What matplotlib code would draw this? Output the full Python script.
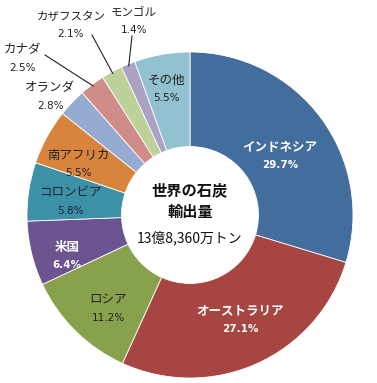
import matplotlib
matplotlib.use("Agg")
import matplotlib.pyplot as plt
import numpy as np

plt.rcParams['font.family'] = ['Noto Sans CJK JP', 'DejaVu Sans']

countries = ['インドネシア', 'オーストラリア', 'ロシア', '米国', 'コロンビア', '南アフリカ',
             'オランダ', 'カナダ', 'カザフスタン', 'モンゴル', 'その他']
shares = [29.7, 27.1, 11.2, 6.4, 5.8, 5.5, 2.8, 2.5, 2.1, 1.4, 5.5]
center_lines = ['世界の石炭', '輸出量', '13億8,360万トン']

colors = ['#426d9d', '#a64541', '#87a14c', '#6b5490', '#3c91a6', '#d8843c',
          '#95abcf', '#d08c89', '#bdd19a', '#aca2c4', '#92c1d0']
text_colors = ['white', 'white', '#222222', 'white', '#222233', '#222222',
               '#222222', '#222222', '#222222', '#222222', '#222222']
# label positions in pixel coordinates (x, y of label name; percent below)
label_pos = [(280, 147), (240, 311), (108, 300), (67, 247), (70, 193), (78, 155),
             (50, 88), (22, 50), (71, 16), (134, 12), (166, 80)]
# leader line starts (pixel) for small slices
leader_start = {7: (45, 55), 8: (92, 35), 9: (132, 36)}

W, H = 377, 383
fig = plt.figure(figsize=(W / 100, H / 100), dpi=100)
ax = fig.add_axes([0, 0, 1, 1])
ax.set_xlim(0, W)
ax.set_ylim(0, H)
ax.axis('off')

cx, cy, R = 190, H - 215, 163
wedges, _ = ax.pie(shares, colors=colors, startangle=90, counterclock=False,
                   center=(cx, cy), radius=R,
                   wedgeprops=dict(width=R * 0.58, edgecolor='white', linewidth=0.6))
ax.set_xlim(0, W)
ax.set_ylim(0, H)
ax.set_aspect('equal')

for i, (name, val) in enumerate(zip(countries, shares)):
    px, py = label_pos[i]
    white = text_colors[i] == 'white'
    fs = 8.3 if i in (8, 9) else 9
    ax.text(px, H - py, name, ha='center', va='center', fontsize=fs,
            color=text_colors[i], fontweight='bold' if white else 'normal')
    ax.text(px, H - py - 18, f'{val}%', ha='center', va='center', fontsize=7.5,
            color=text_colors[i], fontweight='bold' if white else 'normal',
            family='DejaVu Sans')

# leader lines
for i, (sx, sy) in leader_start.items():
    w = wedges[i]
    ang = np.deg2rad((w.theta1 + w.theta2) / 2)
    ex = cx + R * 0.99 * np.cos(ang)
    ey = cy + R * 0.99 * np.sin(ang)
    ax.plot([sx, ex], [H - sy, ey], color='#222222', lw=0.8)

ax.text(cx, H - 190, center_lines[0], ha='center', va='center', fontsize=11,
        fontweight='bold', color='#111111')
ax.text(cx, H - 212, center_lines[1], ha='center', va='center', fontsize=11,
        fontweight='bold', color='#111111')
ax.text(cx, H - 238, center_lines[2], ha='center', va='center', fontsize=10,
        color='#111111')

fig.savefig('out.png', dpi=100)
